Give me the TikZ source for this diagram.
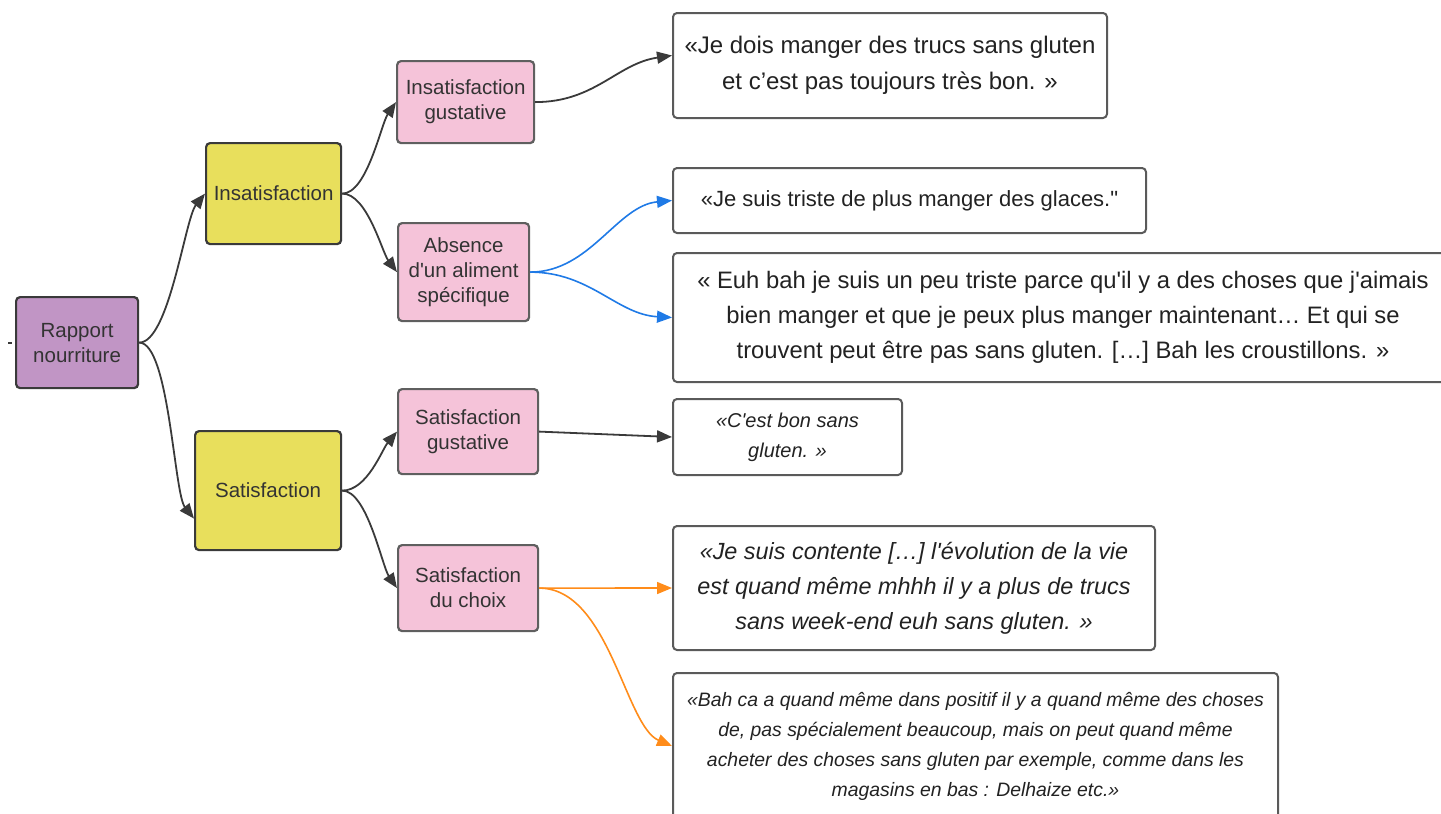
\documentclass[tikz,border=0pt]{standalone}
\usepackage{fontspec}
\setmainfont{Liberation Sans}[Ligatures=TeXOff]
\usetikzlibrary{arrows.meta}

\definecolor{rootfill}{RGB}{193,149,197}
\definecolor{midfill}{RGB}{232,223,92}
\definecolor{leaffill}{RGB}{245,195,217}
\definecolor{darkedge}{RGB}{58,58,58}
\definecolor{leafedge}{RGB}{95,95,95}
\definecolor{quoteedge}{RGB}{90,90,90}
\definecolor{txt}{RGB}{51,51,51}
\definecolor{qtxt}{RGB}{34,34,34}
\definecolor{linkblue}{RGB}{31,122,230}
\definecolor{linkorange}{RGB}{255,140,26}

\tikzset{
  box/.style={draw=darkedge, line width=2.2pt, rounded corners=4pt, inner sep=0pt,
    anchor=north west, align=center, text=txt, font=\fontsize{20.5}{25}\selectfont},
  rootbox/.style={box, fill=rootfill},
  midbox/.style={box, fill=midfill},
  leafbox/.style={box, fill=leaffill, draw=leafedge},
  quotebox/.style={draw=quoteedge, line width=2pt, rounded corners=4pt, fill=white,
    inner sep=0pt, anchor=north west, align=center, text=qtxt,
    font=\fontsize{24}{36}\selectfont},
  conn/.style={line width=1.8pt, draw=darkedge,
    -{Triangle[length=15pt,width=12pt]}},
  blueconn/.style={conn, draw=linkblue, line width=1.6pt},
  orangeconn/.style={conn, draw=linkorange, line width=1.6pt},
}

\begin{document}
\begin{tikzpicture}[x=1pt,y=-1pt]
\useasboundingbox (0,0) rectangle (1441,814);
\clip (0,0) rectangle (1441,814);

% tree nodes
\node[rootbox, minimum width=122pt, minimum height=91pt] (rap) at (15,296) {Rapport\\nourriture};
\node[midbox, minimum width=135pt, minimum height=101pt] (insat) at (205,142) {Insatisfaction};
\node[midbox, minimum width=146pt, minimum height=119pt] (sat) at (194,430) {Satisfaction};
\node[leafbox, minimum width=137pt, minimum height=82pt] (insgust) at (396,60) {Insatisfaction\\gustative};
\node[leafbox, minimum width=131pt, minimum height=98pt] (abs) at (397,222) {Absence\\d'un aliment\\spécifique};
\node[leafbox, minimum width=140pt, minimum height=85pt] (satgust) at (397,388) {Satisfaction\\gustative};
\node[leafbox, minimum width=140pt, minimum height=86pt] (choix) at (397,544) {Satisfaction\\du choix};

% quotations
\node[quotebox, minimum width=434pt, minimum height=105pt] (q1) at (672,12)
  {«Je dois manger des trucs sans gluten\\et c’est pas toujours très bon. »};
\node[quotebox, minimum width=473pt, minimum height=65pt, font=\fontsize{22}{30}\selectfont] (q2) at (672,167)
  {«Je suis triste de plus manger des glaces."};
\node[quotebox, minimum width=780pt, minimum height=129pt, font=\fontsize{23.8}{35}\selectfont] (q3) at (672,252)
  {« Euh bah je suis un peu triste parce qu'il y a des choses que j'aimais\\bien manger et que je peux plus manger maintenant… Et qui se\\trouvent peut être pas sans gluten. […] Bah les croustillons. »};
\node[quotebox, minimum width=229pt, minimum height=76pt, font=\fontsize{20}{30}\selectfont\itshape] (q4) at (672,398)
  {«C'est bon sans\\gluten. »};
\node[quotebox, minimum width=482pt, minimum height=124pt, font=\fontsize{23.4}{35}\selectfont\itshape] (q5) at (672,525)
  {«Je suis contente […] l'évolution de la vie\\est quand même mhhh il y a plus de trucs\\sans week-end euh sans gluten. »};
\node[quotebox, minimum width=605pt, minimum height=146pt, font=\fontsize{19.4}{30}\selectfont\itshape] (q6) at (672,672)
  {«Bah ca a quand même dans positif il y a quand même des choses\\de, pas spécialement beaucoup, mais on peut quand même\\acheter des choses sans gluten par exemple, comme dans les\\magasins en bas : Delhaize etc.»};

% short stub at the left of the root
\coordinate (stubA) at (8,343);
\coordinate (stubB) at (12,343);
\draw[line width=1.2pt, darkedge] (stubA) -- (stubB);

% tree connectors
\draw[conn] (rap.east) .. controls +(30,0) and +(-20,25) .. (insat.west);
\draw[conn] (rap.east) .. controls +(30,0) and +(-20,-25) .. ([yshift=-28pt]sat.west);
\draw[conn] (insat.east) .. controls +(25,0) and +(-15,22) .. (insgust.west);
\draw[conn] (insat.east) .. controls +(25,0) and +(-15,-20) .. (abs.west);
\draw[conn] (sat.east) .. controls +(25,0) and +(-15,18) .. (satgust.west);
\draw[conn] (sat.east) .. controls +(25,0) and +(-15,-22) .. (choix.west);

% links to quotations
\draw[conn] (insgust.east) .. controls +(60,0) and +(-55,8) .. ([yshift=10pt]q1.west);
\draw[blueconn] (abs.east) .. controls +(60,0) and +(-55,5) .. (q2.west);
\draw[blueconn] (abs.east) .. controls +(60,0) and +(-55,-3) .. (q3.west);
\draw[conn] (satgust.east) -- (q4.west);
\draw[orangeconn] (choix.east) -- (q5.west);
\draw[orangeconn] (choix.east) .. controls +(70,0) and +(-47,-20) .. (q6.west);
\end{tikzpicture}
\end{document}
